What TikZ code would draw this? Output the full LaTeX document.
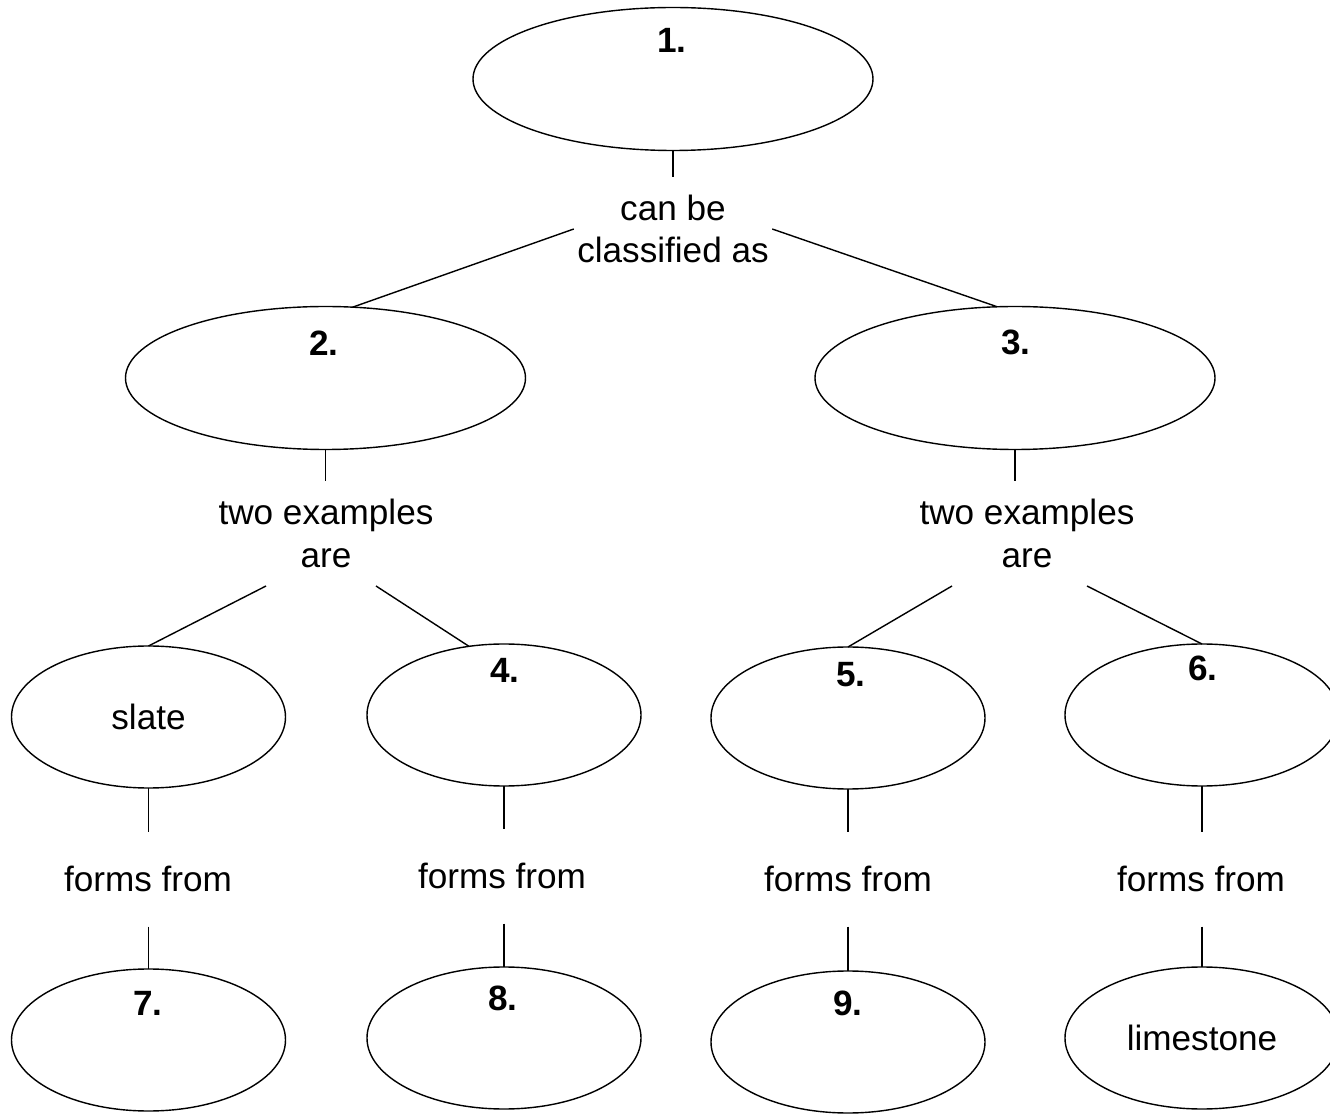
\documentclass[tikz,border=0pt]{standalone}
\usepackage{fontspec}
\setmainfont{Liberation Sans}
\usetikzlibrary{shapes.geometric}

\begin{document}
\begin{tikzpicture}[line width=0.8pt,
    font=\fontsize{20}{24}\selectfont,
    bigbubble/.style={ellipse,draw,inner sep=0pt,outer sep=0pt,minimum width=8cm,minimum height=2.86cm},
    bubble/.style={ellipse,draw,inner sep=0pt,outer sep=0pt,minimum width=5.48cm,minimum height=2.84cm},
    num/.style={inner sep=0pt,font=\fontsize{20}{24}\selectfont\bfseries},
    linkword/.style={align=center,inner xsep=2pt,inner ysep=0pt,outer sep=0pt},
    formsword/.style={inner xsep=2pt,inner ysep=0pt,outer sep=0pt,minimum height=1.9cm}]
    \useasboundingbox (0,0) rectangle (26.6,-22.32);
    \clip (0,0) rectangle (26.6,-22.32);

    \node[bigbubble] (e1) at (13.46,-1.58) {};
    \node[num] (n1) at (13.44,-0.80) {1.};
    \node[linkword,minimum height=2.08cm] (l1) at (13.46,-4.58) {can be\\classified as};

    \node[bigbubble] (e2) at (6.51,-7.56) {};
    \node[num] (n2) at (6.48,-6.86) {2.};
    \node[bigbubble] (e3) at (20.30,-7.56) {};
    \node[num] (n3) at (20.32,-6.84) {3.};

    \node[linkword,minimum height=2.1cm] (l2) at (6.52,-10.67) {two examples\\are};
    \node[linkword,minimum height=2.1cm] (l3) at (20.54,-10.67) {two examples\\are};

    \node[bubble] (e4) at (2.97,-14.34) {slate};
    \node[bubble] (e5) at (10.08,-14.30) {};
    \node[num] (n4) at (10.10,-13.40) {4.};
    \node[bubble] (e6) at (16.96,-14.36) {};
    \node[num] (n5) at (17.02,-13.50) {5.};
    \node[bubble] (e7) at (24.04,-14.30) {};
    \node[num] (n6) at (24.06,-13.36) {6.};

    \node[formsword] (f1) at (2.96,-17.58) {forms from};
    \node[formsword] (f2) at (10.04,-17.52) {forms from};
    \node[formsword] (f3) at (16.96,-17.58) {forms from};
    \node[formsword] (f4) at (24.02,-17.58) {forms from};

    \node[bubble] (e8) at (2.97,-20.80) {};
    \node[num] (n7) at (2.96,-20.06) {7.};
    \node[bubble] (e9) at (10.08,-20.76) {};
    \node[num] (n8) at (10.06,-19.96) {8.};
    \node[bubble] (e10) at (16.96,-20.84) {};
    \node[num] (n9) at (16.96,-20.06) {9.};
    \node[bubble] (e11) at (24.04,-20.76) {limestone};

    \draw (e1.south) -- (e1.south |- l1.north);
    \draw (l1.west) -- (e2.69);
    \draw (l1.east) -- (e3.104);
    \draw (e2.south) -- (e2.south |- l2.north);
    \draw (e3.south) -- (e3.south |- l3.north);
    \draw ([xshift=-1.2cm]l2.south) -- (e4.north);
    \draw ([xshift=1.0cm]l2.south) -- (e5.117);
    \draw ([xshift=-1.5cm]l3.south) -- (e6.north);
    \draw ([xshift=1.2cm]l3.south) -- (e7.north);
    \draw (e4.south) -- (e4.south |- f1.north);
    \draw (e5.south) -- (e5.south |- f2.north);
    \draw (e6.south) -- (e6.south |- f3.north);
    \draw (e7.south) -- (e7.south |- f4.north);
    \draw (e8.north |- f1.south) -- (e8.north);
    \draw (e9.north |- f2.south) -- (e9.north);
    \draw (e10.north |- f3.south) -- (e10.north);
    \draw (e11.north |- f4.south) -- (e11.north);
\end{tikzpicture}
\end{document}
